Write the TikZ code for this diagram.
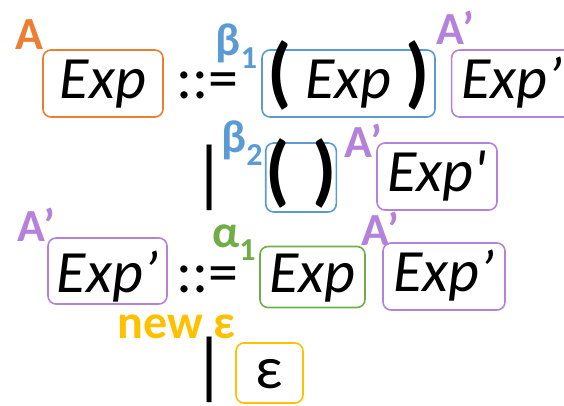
\documentclass[tikz,border=0pt]{standalone}
\usepackage{fontspec}
\setmainfont{Carlito}
\usetikzlibrary{positioning}
\definecolor{aorange}{HTML}{ED7D31}
\definecolor{bblue}{HTML}{5B9BD5}
\definecolor{apurple}{HTML}{B482DA}
\definecolor{agreen}{HTML}{70AD47}
\definecolor{nyellow}{HTML}{FFC000}
\tikzstyle{gbox}=[rectangle,rounded corners=8pt,draw,line width=1.6pt,inner sep=0pt,
                  minimum height=67pt,text height=42pt,text depth=12pt,font=\fontsize{60}{64}\selectfont\itshape]
\tikzstyle{gsym}=[inner sep=0pt,text height=42pt,text depth=12pt,font=\fontsize{60}{64}\selectfont]
\tikzstyle{glab}=[inner sep=0pt,font=\fontsize{46}{48}\selectfont\bfseries]
\newcommand{\subdig}[1]{{\fontsize{32}{32}\selectfont\raisebox{-13pt}{#1}}}
\newcommand{\bigpar}[1]{{\fontsize{78}{78}\selectfont\bfseries\upshape #1}}

\begin{document}
\begin{tikzpicture}[x=1pt,y=-1pt]
      \useasboundingbox (0,0) rectangle (564,405);
      \node[gbox,draw=aorange,minimum width=120pt] (exp1) at (103,83.5) {Exp};
      \node[gsym] (def1) at (207,83.5) {::=};
      \node[gbox,draw=bblue,minimum width=173pt] (par1) at (348.5,83.5) {\bigpar{(}\hspace{14pt}Exp\hspace{14pt}\bigpar{)}};
      \node[gbox,draw=apurple,minimum width=120pt,right=15pt of par1] (rest1) {Exp’};
      \node[gsym,font=\fontsize{74}{74}\selectfont] (bar1) at (210,183) {|};
      \node[gbox,draw=bblue,minimum width=68pt,minimum height=69pt] (par2) at (301,177.5) {\raisebox{-4pt}{\bigpar{(}\hspace{22pt}\bigpar{)}}};
      \node[gbox,draw=apurple,minimum width=120pt] (rest2) at (437,176.5) {Exp\textquotesingle};
      \node[gbox,draw=apurple,minimum width=119pt,minimum height=66pt,text height=50pt,text depth=8pt] (rest3) at (107.5,271) {Exp’};
      \node[gsym] (def2) at (207.5,277) {::=};
      \node[gbox,draw=agreen,minimum width=105pt,minimum height=61pt] (exp2) at (312.5,277) {Exp};
      \node[gbox,draw=apurple,minimum width=122pt] (rest4) at (444,276.5) {Exp’};
      \node[gsym,font=\fontsize{74}{74}\selectfont] (bar2) at (210,375) {|};
      \node[gbox,draw=nyellow,minimum width=67pt,minimum height=60pt,font=\fontsize{60}{64}\selectfont\upshape] (eps) at (269.5,373) {ε};
      \node[glab,text=aorange] (lA) at (29,34.5) {A};
      \node[glab,text=bblue] (lb1) at (236.5,46.5) {β\subdig{1}};
      \node[glab,text=apurple] (la1) at (455,27.5) {A’};
      \node[glab,text=bblue] (lb2) at (242,143) {β\subdig{2}};
      \node[glab,text=apurple] (la2) at (363.5,141) {A’};
      \node[glab,text=apurple] (la3) at (36.5,225) {A’};
      \node[glab,text=agreen] (lal) at (234,242.5) {α\subdig{1}};
      \node[glab,text=apurple] (la4) at (380.5,229) {A’};
      \node[glab,text=nyellow,font=\fontsize{48}{50}\selectfont\bfseries] (lnew) at (176.5,326.5) {new ε};
    \end{tikzpicture}
\end{document}
